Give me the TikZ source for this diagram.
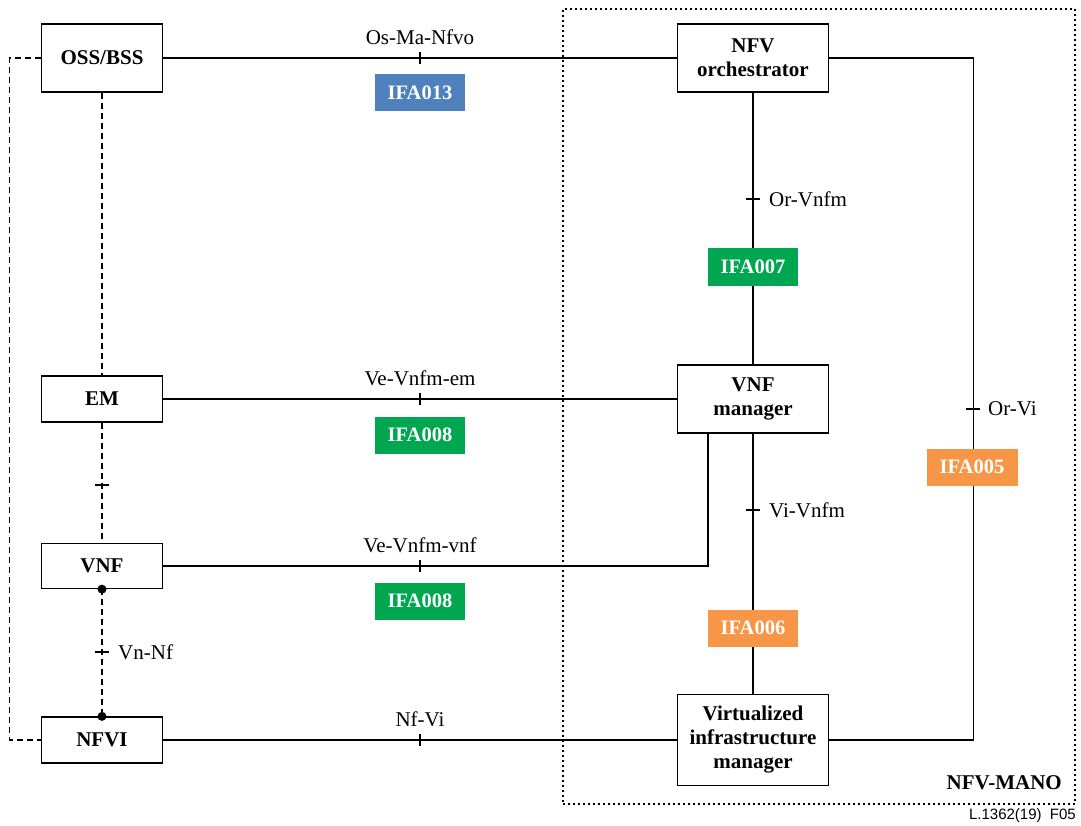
\documentclass[tikz,border=0pt]{standalone}
\usepackage{fontspec}
\setmainfont{Liberation Serif}
\newfontfamily\figsans{Liberation Sans}
\definecolor{ifablue}{HTML}{4F81BD}
\definecolor{ifagreen}{HTML}{00A650}
\definecolor{ifaorange}{HTML}{F79646}
\begin{document}
\begin{tikzpicture}[x=1pt,y=-1pt,
  box/.style={draw, line width=1.3pt, fill=white, inner sep=0pt, align=center,
    font=\fontsize{21}{24}\selectfont\bfseries},
  ifa/.style={inner sep=0pt, minimum width=90pt, minimum height=37pt, text=white,
    font=\fontsize{20.5}{24}\selectfont\bfseries},
  iface/.style={line width=1.1pt},
  link/.style={line width=1.1pt, dash pattern=on 6pt off 4pt},
  lbl/.style={inner sep=0pt, font=\fontsize{21}{24}\selectfont},
  hmark/.style={line width=1.2pt, shorten >=-6pt, shorten <=-6pt},
]
\useasboundingbox (0,0) rectangle (1081,826);

% NFV-MANO boundary
\node[draw, line width=1.2pt, dash pattern=on 2pt off 3pt, minimum width=512pt,
  minimum height=795pt, inner sep=0pt] (mano) at (819,406.5) {};
\node[inner sep=0pt, anchor=east, font=\fontsize{21}{24}\selectfont\bfseries]
  (manolbl) at (1062,783) {NFV-MANO};

% functional blocks
\node[box, minimum width=121pt, minimum height=68pt] (oss)  at (102,58)  {OSS/BSS};
\node[box, minimum width=121pt, minimum height=46pt] (em)   at (102,399) {EM};
\node[box, minimum width=121pt, minimum height=45pt] (vnf)  at (102,566) {VNF};
\node[box, minimum width=121pt, minimum height=46pt] (nfvi) at (102,740) {NFVI};
\node[box, minimum width=151pt, minimum height=68pt] (orch) at (753,58)  {NFV\\orchestrator};
\node[box, minimum width=151pt, minimum height=68pt] (vnfm) at (753,399) {VNF\\manager};
\node[box, minimum width=151pt, minimum height=91pt] (vim)  at (753,740) {Virtualized\\infrastructure\\manager};

% reference points (solid)
\draw[iface] (oss.east) -- coordinate[pos=0.5] (tOs) (orch.west);
\draw[iface] (em.east) -- coordinate[pos=0.5] (tVem) (vnfm.west);
\coordinate (vnfmfoot) at ([xshift=-45pt]vnfm.south);
\draw[iface] (vnf.east) -| (vnfmfoot);
\coordinate (tVvnf) at (420,566);
\draw[iface] (nfvi.east) -- coordinate[pos=0.5] (tNf) (vim.west);
\draw[iface] (orch.south) -- (vnfm.north);
\coordinate (tOrV) at (753,199);
\draw[iface] (vnfm.south) -- (vim.north);
\coordinate (tViV) at (753,510);
\draw[iface] (orch.east) -- ++(144,0) coordinate (orchcorner) |- (vim.east);
\coordinate (tOrVi) at (973,409);

% reference points (dashed)
\draw[link] (oss.west) -- ++(-31,0) |- (nfvi.west);
\draw[link] (oss.south) -- (em.north);
\draw[link] (em.south) -- (vnf.north);
\coordinate (tEV) at (102,485);
\draw[link] (vnf.south) -- (nfvi.north);
\coordinate (tVn) at (102,652);
\fill (vnf.south) circle (4.5pt);
\fill (nfvi.north) circle (4.5pt);

% tick marks
\foreach \t in {tOs,tVem,tVvnf,tNf}
  \draw[hmark] ([yshift=-0.1pt]\t) -- ([yshift=0.1pt]\t);
\foreach \t in {tOrV,tViV,tOrVi,tEV,tVn}
  \draw[hmark, line width=1.3pt, shorten >=-7pt, shorten <=-7pt]
    ([xshift=-0.1pt]\t) -- ([xshift=0.1pt]\t);

% reference point names
\node[lbl] (lOs)   at ([yshift=21pt]tOs)  {Os-Ma-Nfvo};
\node[lbl] (lVem)  at ([yshift=21pt]tVem) {Ve-Vnfm-em};
\node[lbl] (lVvnf) at ([yshift=21pt]tVvnf) {Ve-Vnfm-vnf};
\node[lbl] (lNf)   at ([yshift=21pt]tNf)  {Nf-Vi};
\node[lbl, anchor=west] (lOrV)  at ([xshift=16pt]tOrV)  {Or-Vnfm};
\node[lbl, anchor=west] (lViV)  at ([xshift=16pt]tViV)  {Vi-Vnfm};
\node[lbl, anchor=west] (lOrVi) at ([xshift=15pt]tOrVi) {Or-Vi};
\node[lbl, anchor=west] (lVn)   at ([xshift=16pt]tVn)   {Vn-Nf};

% interface specifications
\node[ifa, fill=ifablue]   (ifa013)  at (420,93)  {IFA013};
\node[ifa, fill=ifagreen]  (ifa007)  at (753,267) {IFA007};
\node[ifa, fill=ifagreen]  (ifa008a) at (420,435) {IFA008};
\node[ifa, fill=ifagreen]  (ifa008b) at (420,601) {IFA008};
\node[ifa, fill=ifaorange] (ifa006)  at (753,628) {IFA006};
\node[ifa, fill=ifaorange, minimum width=91pt] (ifa005) at (972,467) {IFA005};

% figure number
\node[inner sep=0pt, anchor=east, font=\figsans\fontsize{15}{18}\selectfont]
  (fignum) at (1076,816) {L.1362(19)\ \ F05};
\end{tikzpicture}
\end{document}
